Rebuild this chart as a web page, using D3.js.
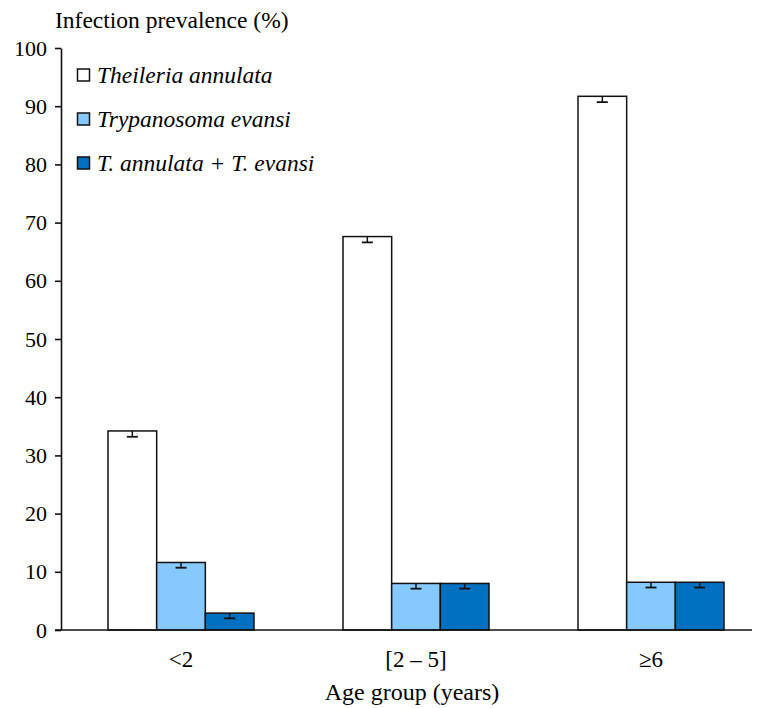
<!DOCTYPE html>
<html><head><meta charset="utf-8">
<script src="https://cdn.jsdelivr.net/npm/d3@7"></script>
<style>body{margin:0;background:#fff}svg{display:block}</style>
</head><body><svg id="c" width="757" height="708" font-family="Liberation Serif"></svg>
<script>
const categories = ["<2", "[2 \u2013 5]", "\u22656"];
const seriesNames = ["Theileria annulata", "Trypanosoma evansi", "T. annulata + T. evansi"];
const theileria = [34.2, 67.6, 91.7];
const trypanosoma = [11.6, 8.0, 8.2];
const mixed = [2.9, 8.0, 8.2];
const errTheileria = [1.0, 1.0, 1.0];
const errTrypanosoma = [0.9, 0.9, 0.9];
const errMixed = [0.9, 0.9, 0.9];
const yTicks = [0, 10, 20, 30, 40, 50, 60, 70, 80, 90, 100];
const colors = ["#ffffff", "#86c9ff", "#0070c0"];

const series = [theileria, trypanosoma, mixed];
const errs = [errTheileria, errTrypanosoma, errMixed];
const FONT = "Liberation Serif";

const svg = d3.select("#c");
const y = d3.scaleLinear().domain([0, 100]).range([630, 48]);
const x0 = d3.scaleBand().domain(categories).range([63.5, 768.5]).padding(0);
const groupW = 146;
const x1 = d3.scaleBand().domain(d3.range(3)).range([(x0.bandwidth() - groupW) / 2, (x0.bandwidth() + groupW) / 2]).padding(0);

function txt(sel, size) {
  return sel.attr("font-family", FONT).attr("font-size", size).attr("fill", "#000");
}

// bars
categories.forEach((c, i) => {
  const g = svg.append("g").attr("transform", `translate(${x0(c)},0)`);
  series.forEach((s, k) => {
    g.append("rect")
      .attr("x", x1(k)).attr("y", y(s[i]))
      .attr("width", x1.bandwidth()).attr("height", y(0) - y(s[i]))
      .attr("fill", colors[k]).attr("stroke", "#111").attr("stroke-width", 1.5);
  });
  series.forEach((s, k) => {
    const cx = x1(k) + x1.bandwidth() / 2;
    g.append("line").attr("x1", cx).attr("x2", cx)
      .attr("y1", y(s[i])).attr("y2", y(s[i] - errs[k][i]))
      .attr("stroke", "#111").attr("stroke-width", 1.5);
    g.append("line").attr("x1", cx - 5.5).attr("x2", cx + 5.5)
      .attr("y1", y(s[i] - errs[k][i])).attr("y2", y(s[i] - errs[k][i]))
      .attr("stroke", "#111").attr("stroke-width", 1.8);
  });
});

// y axis
const yAxis = d3.axisLeft(y).tickValues(yTicks).tickSize(6).tickSizeOuter(0).tickPadding(8);
const ga = svg.append("g").attr("transform", "translate(61,0)").call(yAxis);
ga.attr("font-family", FONT).attr("font-size", 22);
ga.select(".domain").attr("stroke", "#111").attr("stroke-width", 1.6);
ga.selectAll(".tick line").attr("stroke", "#111").attr("stroke-width", 1.6);
txt(ga.selectAll(".tick text"), 22);

// x axis
svg.append("line").attr("x1", 55).attr("x2", 752).attr("y1", y(0)).attr("y2", y(0))
  .attr("stroke", "#111").attr("stroke-width", 1.6);
txt(svg.selectAll(".xl").data(categories).enter().append("text")
  .attr("x", d => x0(d) + x0.bandwidth() / 2).attr("y", 667)
  .attr("text-anchor", "middle"), 23).text(d => d);

txt(svg.append("text").attr("x", 412).attr("y", 700).attr("text-anchor", "middle"), 24)
  .text("Age group (years)");
txt(svg.append("text").attr("x", 55).attr("y", 28), 23.5)
  .text("Infection prevalence (%)");

// legend
const legY = [75, 119, 163];
seriesNames.forEach((n, k) => {
  svg.append("rect").attr("x", 77.5).attr("y", legY[k] - 6).attr("width", 12).attr("height", 12)
    .attr("fill", colors[k]).attr("stroke", "#111").attr("stroke-width", 1.5);
  txt(svg.append("text").attr("x", 97).attr("y", legY[k] + 7.5), 23.5)
    .attr("font-style", "italic").text(n);
});
</script></body></html>
